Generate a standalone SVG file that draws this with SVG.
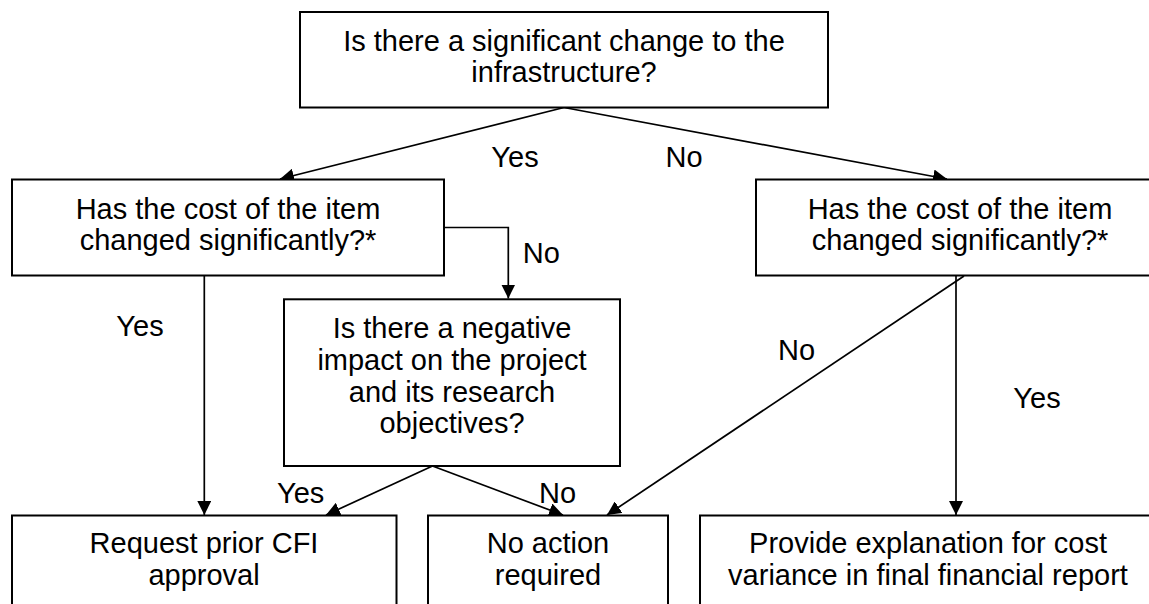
<svg xmlns="http://www.w3.org/2000/svg" width="1149" height="604" viewBox="0 0 1149 604">
<style>
.box{fill:#fff;stroke:#000;stroke-width:2}
.t{font-family:"Liberation Sans",Arial,sans-serif;font-size:29px;fill:#000;text-anchor:middle}
.l{font-family:"Liberation Sans",Arial,sans-serif;font-size:29px;fill:#000}
.c{fill:none;stroke:#000;stroke-width:1.7;marker-end:url(#ah)}
</style>
<defs>
<marker id="ah" viewBox="0 0 14 14" refX="14" refY="7" markerWidth="14" markerHeight="14" markerUnits="userSpaceOnUse" orient="auto">
<path d="M0,0 L14,7 L0,14 z" fill="#000"/>
</marker>
</defs>
<rect width="1149" height="604" fill="#fff"/>
<g id="connectors">
<path class="c" d="M564,107.5 L280,179"/>
<path class="c" d="M564,107.5 L947,179"/>
<path class="c" d="M444,227.5 H508.3 V298.5"/>
<path class="c" d="M204.3,276 V515"/>
<path class="c" d="M432.5,466 L326,515"/>
<path class="c" d="M432.5,466 L563,515"/>
<path class="c" d="M964,276 L607,515"/>
<path class="c" d="M956,276 V515"/>
</g>
<g id="labels">
<text class="t" x="515" y="166.7">Yes</text>
<text class="t" x="684" y="166.7">No</text>
<text class="l" x="522.7" y="263.3">No</text>
<text class="t" x="140" y="335.7">Yes</text>
<text class="t" x="796.5" y="360">No</text>
<text class="t" x="1037" y="408.3">Yes</text>
<text class="l" x="277" y="503">Yes</text>
<text class="l" x="539" y="502.7">No</text>
</g>
<g id="q-infrastructure">
<rect class="box" x="300" y="12" width="528" height="95.5"/>
<text class="t" x="564" y="50.7">Is there a significant change to the</text>
<text class="t" x="564" y="81.7">infrastructure?</text>
</g>
<g id="q-cost-left">
<rect class="box" x="12" y="179.5" width="432" height="96"/>
<text class="t" x="228" y="218.7">Has the cost of the item</text>
<text class="t" x="228" y="250">changed significantly?*</text>
</g>
<g id="q-cost-right">
<rect class="box" x="756" y="179.5" width="408" height="96"/>
<text class="t" x="960" y="218.7">Has the cost of the item</text>
<text class="t" x="960" y="250">changed significantly?*</text>
</g>
<g id="q-impact">
<rect class="box" x="284" y="299.3" width="336" height="166.7"/>
<text class="t" x="452" y="338.3">Is there a negative</text>
<text class="t" x="452" y="370">impact on the project</text>
<text class="t" x="452" y="401.7">and its research</text>
<text class="t" x="452" y="433.3">objectives?</text>
</g>
<g id="a-request">
<rect class="box" x="12" y="515.5" width="384.5" height="120"/>
<text class="t" x="204" y="553.3">Request prior CFI</text>
<text class="t" x="204" y="585">approval</text>
</g>
<g id="a-none">
<rect class="box" x="428" y="515.5" width="240" height="120"/>
<text class="t" x="548" y="553.3">No action</text>
<text class="t" x="548" y="585">required</text>
</g>
<g id="a-explain">
<rect class="box" x="700" y="515.5" width="456" height="120"/>
<text class="t" x="928" y="553.3">Provide explanation for cost</text>
<text class="t" x="928" y="585">variance in final financial report</text>
</g>
</svg>
